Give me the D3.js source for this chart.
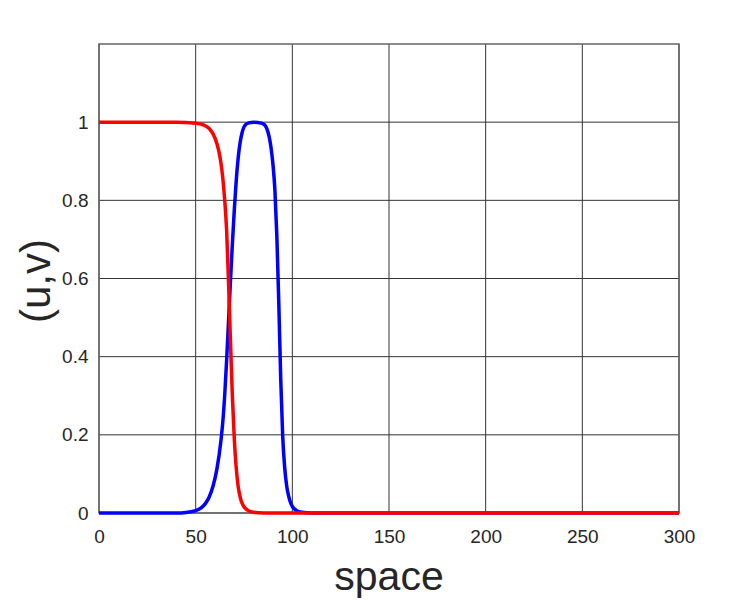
<!DOCTYPE html>
<html>
<head>
<meta charset="utf-8">
<script src="https://cdn.jsdelivr.net/npm/d3@7"></script>
<style>
  body { margin: 0; background: #fff; }
  svg text { font-family: "Liberation Sans", Arial, sans-serif; fill: #262626; }
</style>
</head>
<body>
<svg id="chart" width="750" height="600"></svg>
<script>
// values
const xTicks = [0, 50, 100, 150, 200, 250, 300];
const yTicks = [0, 0.2, 0.4, 0.6, 0.8, 1];

// u (red)
const uX = [0, 20, 40, 50, 54, 57, 59, 61, 62, 63, 64, 65, 66, 67, 68, 69, 70, 71, 72, 73, 74, 75, 77, 80, 85, 100, 150, 200, 250, 300];
const uY = [1, 1, 1, 0.9975, 0.9933, 0.9837, 0.97, 0.945, 0.925, 0.898, 0.858, 0.802, 0.724, 0.59, 0.44, 0.297, 0.188, 0.114, 0.067, 0.041, 0.025, 0.016, 0.0067, 0.0018, 0, 0, 0, 0, 0, 0];

// v (blue)
const vX = [0, 20, 40, 45, 50, 53, 55, 57, 59, 61, 63, 64, 65, 66, 67, 68, 69, 70, 71, 72, 73, 74, 75, 76, 77.5, 80, 84, 85, 86, 87, 88, 89, 90, 91, 92, 93, 94, 95, 96, 97, 98, 99, 100, 102, 105, 110, 150, 200, 300];
const vY = [0, 0, 0, 0.0015, 0.006, 0.014, 0.024, 0.041, 0.069, 0.113, 0.182, 0.231, 0.3, 0.389, 0.49, 0.594, 0.69, 0.777, 0.852, 0.909, 0.948, 0.973, 0.988, 0.9945, 0.998, 1, 0.9975, 0.9955, 0.991, 0.981, 0.963, 0.934, 0.891, 0.825, 0.707, 0.537, 0.343, 0.198, 0.119, 0.072, 0.045, 0.028, 0.017, 0.0067, 0.0018, 0, 0, 0, 0];

const plotLeft = 99, plotRight = 679, plotTop = 44, plotBottom = 513;

const svg = d3.select("#chart");

const x = d3.scaleLinear().domain([0, 300]).range([plotLeft, plotRight]);
const y = d3.scaleLinear().domain([0, 1.2]).range([plotBottom, plotTop]);

// grid
svg.append("g")
  .selectAll("line")
  .data(xTicks)
  .join("line")
  .attr("x1", d => x(d)).attr("x2", d => x(d))
  .attr("y1", plotTop).attr("y2", plotBottom)
  .style("stroke", "#333")
  .style("stroke-width", 1);

svg.append("g")
  .selectAll("line")
  .data(yTicks)
  .join("line")
  .attr("x1", plotLeft).attr("x2", plotRight)
  .attr("y1", d => y(d)).attr("y2", d => y(d))
  .style("stroke", "#333")
  .style("stroke-width", 1);

// box
svg.append("rect")
  .attr("x", plotLeft).attr("y", plotTop)
  .attr("width", plotRight - plotLeft).attr("height", plotBottom - plotTop)
  .style("fill", "none")
  .style("stroke", "#666")
  .style("stroke-width", 1.5);

// axes
const xAxis = svg.append("g")
  .attr("transform", "translate(0," + plotBottom + ")")
  .call(d3.axisBottom(x).tickValues(xTicks).tickSize(0).tickPadding(17).tickFormat(d3.format("d")));
const yAxis = svg.append("g")
  .attr("transform", "translate(" + plotLeft + ",0)")
  .call(d3.axisLeft(y).tickValues(yTicks).tickSize(0).tickPadding(10.5).tickFormat(d => d === 0 || d === 1 ? d : d.toFixed(1)));
[xAxis, yAxis].forEach(a => {
  a.select(".domain").remove();
  a.selectAll("text")
    .style("font-family", "'Liberation Sans', Arial, sans-serif")
    .style("font-size", "19px")
    .style("fill", "#262626");
});

// lines
const line = d3.line()
  .x(d => x(d[0]))
  .y(d => y(d[1]))
  .curve(d3.curveMonotoneX);

svg.append("path")
  .datum(d3.zip(vX, vY))
  .attr("d", line)
  .style("fill", "none")
  .style("stroke", "#0000ff")
  .style("stroke-width", 3.5);

svg.append("path")
  .datum(d3.zip(uX, uY))
  .attr("d", line)
  .style("fill", "none")
  .style("stroke", "#ff0000")
  .style("stroke-width", 3.5);

// labels
svg.append("text")
  .attr("x", (plotLeft + plotRight) / 2)
  .attr("y", 590)
  .attr("text-anchor", "middle")
  .style("font-size", "41px")
  .text("space");

svg.append("text")
  .attr("transform", "translate(50,281) rotate(-90)")
  .attr("text-anchor", "middle")
  .style("font-size", "42px")
  .text("(u,v)");
</script>
</body>
</html>
